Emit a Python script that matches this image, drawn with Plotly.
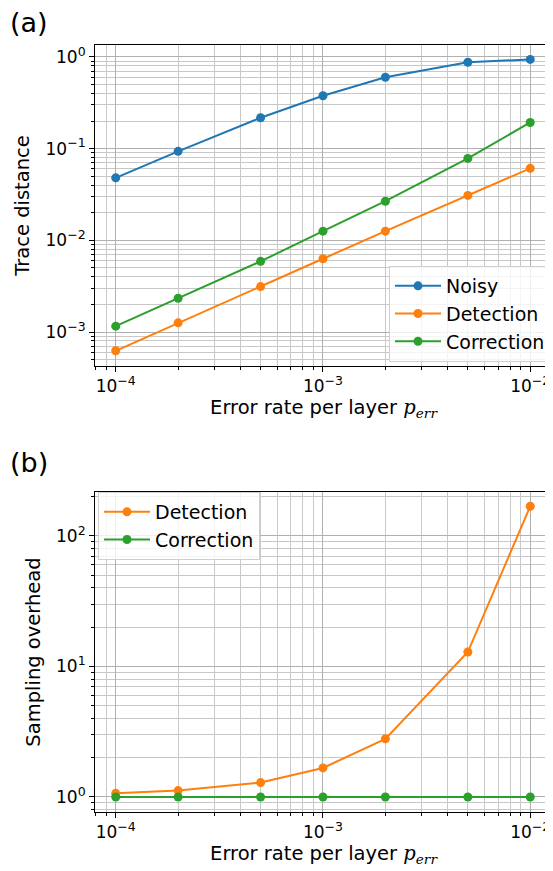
import plotly.graph_objects as go
from plotly.subplots import make_subplots

# error rate per layer
p_err = [1e-4, 2e-4, 5e-4, 1e-3, 2e-3, 5e-3, 1e-2]

# (a) trace distance
noisy_td = [0.048, 0.0935, 0.217, 0.377, 0.60, 0.875, 0.94]
detection_td = [6.25e-4, 1.26e-3, 3.13e-3, 6.3e-3, 0.0126, 0.0309, 0.061]
correction_td = [1.16e-3, 2.34e-3, 5.9e-3, 0.0126, 0.0267, 0.0783, 0.193]

# (b) sampling overhead
detection_so = [1.067, 1.12, 1.29, 1.67, 2.79, 12.9, 169]
correction_so = [1.0, 1.0, 1.0, 1.0, 1.0, 1.0, 1.0]

x_ticks = [1e-4, 1e-3, 1e-2]
x_exps = ["\u22124", "\u22123", "\u22122"]
ya_ticks = [1e-3, 1e-2, 1e-1, 1]
ya_exps = ["\u22123", "\u22122", "\u22121", "0"]
yb_ticks = [1, 10, 100]
yb_exps = ["0", "1", "2"]

BLUE, ORANGE, GREEN = "#1f77b4", "#ff7f0e", "#2ca02c"
FONT = "DejaVu Sans"

# the page body has an 8px margin, so the figure is drawn 8px smaller
W, H = 545, 863


def pow10(exps):
    return ['10<sup><span style="font-size:12.5px">%s</span></sup>' % e for e in exps]


def minors(lo, hi):
    # minor grid positions 2..9 per decade
    out = []
    for e in range(lo, hi + 1):
        out += [m * 10.0 ** e for m in range(2, 10)]
    return out


def minor_axis(vals):
    return dict(tickmode="array", tickvals=vals, ticks="outside", ticklen=3,
                tickcolor="black", showgrid=True, gridcolor="#c8c8c8", gridwidth=1)


fig = make_subplots(rows=2, cols=1)


def add(name, x, y, color, row, legend):
    fig.add_trace(
        go.Scatter(
            name=name, x=x, y=y, mode="lines+markers",
            line=dict(color=color, width=2),
            marker=dict(color=color, size=9),
            legend=legend,
        ),
        row=row, col=1,
    )


add("Noisy", p_err, noisy_td, BLUE, 1, "legend")
add("Detection", p_err, detection_td, ORANGE, 1, "legend")
add("Correction", p_err, correction_td, GREEN, 1, "legend")
add("Detection", p_err, detection_so, ORANGE, 2, "legend2")
add("Correction", p_err, correction_so, GREEN, 2, "legend2")

axis_common = dict(
    type="log",
    showline=True, mirror=True, linecolor="black", linewidth=1,
    ticks="outside", ticklen=5, tickcolor="black",
    showgrid=True, gridcolor="#b0b0b0", gridwidth=1,
    tickfont=dict(family=FONT, size=17, color="black"),
    zeroline=False, automargin=False,
)
title_font = dict(family=FONT, size=19.5, color="black")
x_title = ('Error rate per layer <span style="font-family:DejaVu Serif"><i>p</i>'
           '<sub><i>err</i></sub></span>')

fig.update_xaxes(
    **axis_common, range=[-4.1, -1.895], tickmode="array",
    tickvals=x_ticks, ticktext=pow10(x_exps),
    minor=minor_axis([8e-5, 9e-5] + minors(-4, -3)),
    title=dict(text=x_title, font=title_font, standoff=2),
    domain=[87 / W, 544 / W],
)

fig.update_yaxes(
    **axis_common, range=[-3.37, 0.13], tickmode="array",
    tickvals=ya_ticks, ticktext=pow10(ya_exps),
    minor=minor_axis(minors(-4, -1)),
    title=dict(text="Trace distance", font=title_font, standoff=10),
    domain=[1 - 358 / H, 1 - 37 / H], row=1, col=1,
)
fig.update_yaxes(
    **axis_common, range=[-0.115, 2.337], tickmode="array",
    tickvals=yb_ticks, ticktext=pow10(yb_exps),
    minor=minor_axis([0.8, 0.9] + minors(0, 2)),
    title=dict(text="Sampling overhead", font=title_font, standoff=10),
    domain=[1 - 804 / H, 1 - 484 / H], row=2, col=1,
)

legend_style = dict(
    bgcolor="rgba(255,255,255,0.8)", bordercolor="#d0d0d0", borderwidth=1,
    font=dict(family=FONT, size=19, color="black"),
    xref="paper", yref="paper", itemwidth=46,
)

fig.update_layout(
    width=W, height=H,
    margin=dict(l=0, r=0, t=0, b=0),
    paper_bgcolor="white", plot_bgcolor="white",
    font=dict(family=FONT, color="black"),
    showlegend=True,
    legend=dict(**legend_style, x=543 / W, y=1 - 354 / H, xanchor="right", yanchor="bottom"),
    legend2=dict(**legend_style, x=90 / W, y=1 - 484 / H, xanchor="left", yanchor="top"),
    annotations=[
        dict(text="(a)", x=0, y=1 - 14 / H, xref="paper", yref="paper", xanchor="left",
             yanchor="middle", showarrow=False,
             font=dict(family=FONT, size=27, color="black")),
        dict(text="(b)", x=0, y=1 - 454.5 / H, xref="paper", yref="paper", xanchor="left",
             yanchor="middle", showarrow=False,
             font=dict(family=FONT, size=27, color="black")),
    ],
)

fig.write_html("out.html")
